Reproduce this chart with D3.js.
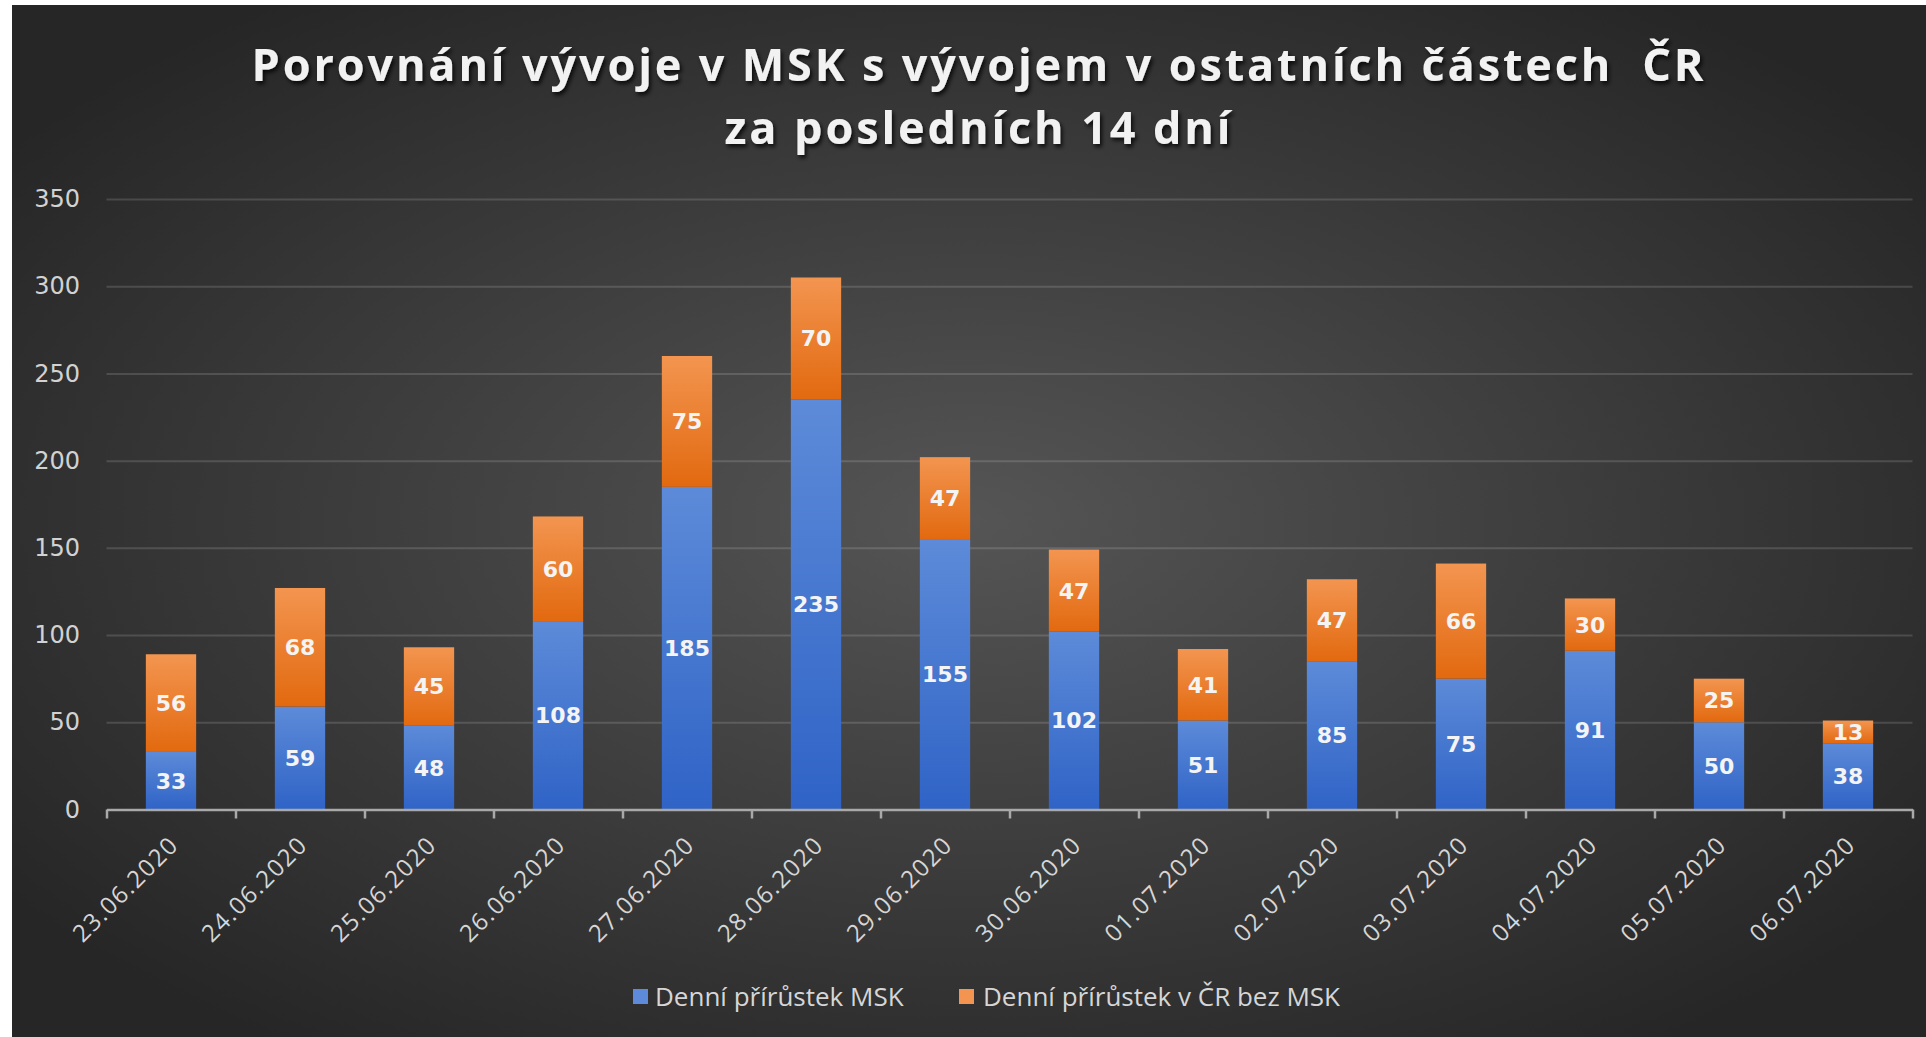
<!DOCTYPE html>
<html>
<head>
<meta charset="utf-8">
<script src="https://cdn.jsdelivr.net/npm/d3@7"></script>
<style>
    body { margin: 0; background: #ffffff; }
    #chart { width: 1926px; height: 1037px; }
</style>
</head>
<body>
<div id="chart"></div>
<script>
// values
const dates = ["23.06.2020", "24.06.2020", "25.06.2020", "26.06.2020", "27.06.2020", "28.06.2020", "29.06.2020",
    "30.06.2020", "01.07.2020", "02.07.2020", "03.07.2020", "04.07.2020", "05.07.2020", "06.07.2020"];
const mskValues = [33, 59, 48, 108, 185, 235, 155, 102, 51, 85, 75, 91, 50, 38];
const restValues = [56, 68, 45, 60, 75, 70, 47, 47, 41, 47, 66, 30, 25, 13];
const yTicks = [0, 50, 100, 150, 200, 250, 300, 350];
const titleLines = ["Porovnání vývoje v MSK s vývojem v ostatních částech  ČR", "za posledních 14 dní"];
const seriesNames = ["Denní přírůstek MSK", "Denní přírůstek v ČR bez MSK"];

class StackedChart {
    constructor(parentElement) {
        this.parentElement = parentElement;
        this.initVis();
    }

    initVis() {
        let vis = this;

        vis.width = 1926;
        vis.height = 1037;
        vis.plot = {left: 106.5, right: 1912.5, top: 199, bottom: 809.5};

        vis.svg = d3.select("#" + vis.parentElement).append("svg")
            .attr("width", vis.width)
            .attr("height", vis.height);

        let defs = vis.svg.append("defs");

        let bg = defs.append("radialGradient").attr("id", "bg")
            .attr("cx", "0.5").attr("cy", "0.5").attr("r", "0.62");
        bg.append("stop").attr("offset", "0").attr("stop-color", "#555555");
        bg.append("stop").attr("offset", "1").attr("stop-color", "#262626");

        // each segment gets a light-to-dark fill like the excel style
        vis.fills = [["#5d8bd9", "#2f63c6"], ["#f39550", "#e2690f"]];
        vis.fills.forEach((c, i) => {
            let g = defs.append("linearGradient").attr("id", "fill" + i)
                .attr("x1", 0).attr("y1", 0).attr("x2", 0).attr("y2", 1);
            g.append("stop").attr("offset", "0").attr("stop-color", c[0]);
            g.append("stop").attr("offset", "1").attr("stop-color", c[1]);
        });

        defs.append("filter").attr("id", "shadow")
            .attr("x", "-5%").attr("y", "-30%").attr("width", "110%").attr("height", "160%")
            .append("feDropShadow")
            .attr("dx", 2).attr("dy", 3).attr("stdDeviation", 2)
            .attr("flood-color", "#000").attr("flood-opacity", 0.8);

        vis.svg.append("rect")
            .attr("x", 12).attr("y", 5)
            .attr("width", vis.width - 12).attr("height", vis.height - 5)
            .attr("fill", "url(#bg)");

        // scales
        vis.x = d3.scaleBand()
            .domain(dates)
            .range([vis.plot.left, vis.plot.right])
            .paddingInner(0.61)
            .paddingOuter(0.305);
        vis.slot = d3.scaleLinear().domain([0, dates.length]).range([vis.plot.left, vis.plot.right]);
        vis.y = d3.scaleLinear().domain([0, 350]).range([vis.plot.bottom, vis.plot.top]);

        vis.wrangleData();
    }

    wrangleData() {
        let vis = this;

        let rows = dates.map((d, i) => ({date: d, msk: mskValues[i], rest: restValues[i]}));
        vis.stacked = d3.stack().keys(["msk", "rest"])(rows);

        vis.updateVis();
    }

    updateVis() {
        let vis = this;

        // title
        let title = vis.svg.append("g").attr("filter", "url(#shadow)");
        [[titleLines[0], 81, 1455], [titleLines[1], 144, 509]].forEach(([t, yy, target]) => {
            let txt = title.append("text")
                .attr("x", 979).attr("y", yy)
                .attr("text-anchor", "middle")
                .style("white-space", "pre")
                .attr("font-family", "'Open Sans', sans-serif")
                .attr("font-weight", "bold")
                .attr("font-size", 45)
                .attr("fill", "#f2f2f2")
                .text(t);
            let natural = txt.node().getComputedTextLength();
            txt.attr("letter-spacing", ((target - natural) / t.length).toFixed(2));
        });

        // gridlines
        vis.svg.append("g")
            .attr("class", "grid")
            .attr("transform", `translate(${vis.plot.left},0)`)
            .call(d3.axisLeft(vis.y).tickValues(yTicks.slice(1)).tickSize(-(vis.plot.right - vis.plot.left)).tickFormat(""))
            .call(g => g.select(".domain").remove())
            .selectAll("line")
            .attr("stroke", "#ffffff")
            .attr("stroke-opacity", 0.14)
            .attr("stroke-width", 2);

        // y labels
        vis.svg.append("g")
            .attr("transform", "translate(80,0)")
            .call(d3.axisLeft(vis.y).tickValues(yTicks).tickSize(0).tickPadding(0))
            .call(g => g.select(".domain").remove())
            .selectAll("text")
            .attr("font-family", "'DejaVu Sans', sans-serif")
            .attr("font-size", 24)
            .attr("fill", "#d2d2d2");

        // bars
        let layers = vis.svg.append("g").selectAll("g")
            .data(vis.stacked)
            .join("g")
            .attr("fill", (d, i) => `url(#fill${i})`);

        layers.selectAll("rect")
            .data(d => d)
            .join("rect")
            .attr("x", d => vis.x(d.data.date))
            .attr("width", vis.x.bandwidth())
            .attr("y", d => vis.y(d[1]))
            .attr("height", d => vis.y(d[0]) - vis.y(d[1]));

        // value labels centred in each segment
        vis.svg.append("g").selectAll("g")
            .data(vis.stacked)
            .join("g")
            .selectAll("text")
            .data(d => d)
            .join("text")
            .attr("x", d => vis.x(d.data.date) + vis.x.bandwidth() / 2)
            .attr("y", d => vis.y((d[0] + d[1]) / 2))
            .attr("dy", "0.36em")
            .attr("text-anchor", "middle")
            .attr("font-family", "'DejaVu Sans', sans-serif")
            .attr("font-weight", "bold")
            .attr("font-size", 22)
            .attr("fill", "#f4f4f4")
            .text(d => d[1] - d[0]);

        // x axis line + ticks on slot borders
        vis.svg.append("g")
            .attr("transform", `translate(0,${vis.plot.bottom})`)
            .call(d3.axisBottom(vis.slot).tickValues(d3.range(dates.length + 1)).tickSize(9).tickSizeOuter(0).tickFormat(""))
            .call(g => g.select(".domain").attr("stroke", "#a9a9a9").attr("stroke-width", 2.5))
            .selectAll("line")
            .attr("stroke", "#a9a9a9")
            .attr("stroke-width", 2.5);

        // date labels
        vis.svg.append("g")
            .attr("transform", `translate(0,${vis.plot.bottom})`)
            .call(d3.axisBottom(vis.x).tickSize(0))
            .call(g => g.select(".domain").remove())
            .selectAll("text")
            .attr("y", 0).attr("dy", "0.35em")
            .attr("text-anchor", "end")
            .attr("transform", "translate(3,31) rotate(-45)")
            .attr("font-family", "'Open Sans', sans-serif")
            .attr("font-size", 24)
            .attr("letter-spacing", 1.5)
            .attr("fill", "#d6d6d6");

        // legend
        let legend = vis.svg.append("g");
        let items = [[633, 655], [959, 983]];
        seriesNames.forEach((name, i) => {
            legend.append("rect")
                .attr("x", items[i][0]).attr("y", 989)
                .attr("width", 15).attr("height", 15)
                .attr("fill", vis.fills[i][0]);
            legend.append("text")
                .attr("x", items[i][1]).attr("y", 997)
                .attr("dy", "0.35em")
                .attr("font-family", "'Open Sans', sans-serif")
                .attr("font-size", 26)
                .attr("fill", "#d6d6d6")
                .text(name);
        });
    }
}

new StackedChart("chart");
</script>
</body>
</html>
